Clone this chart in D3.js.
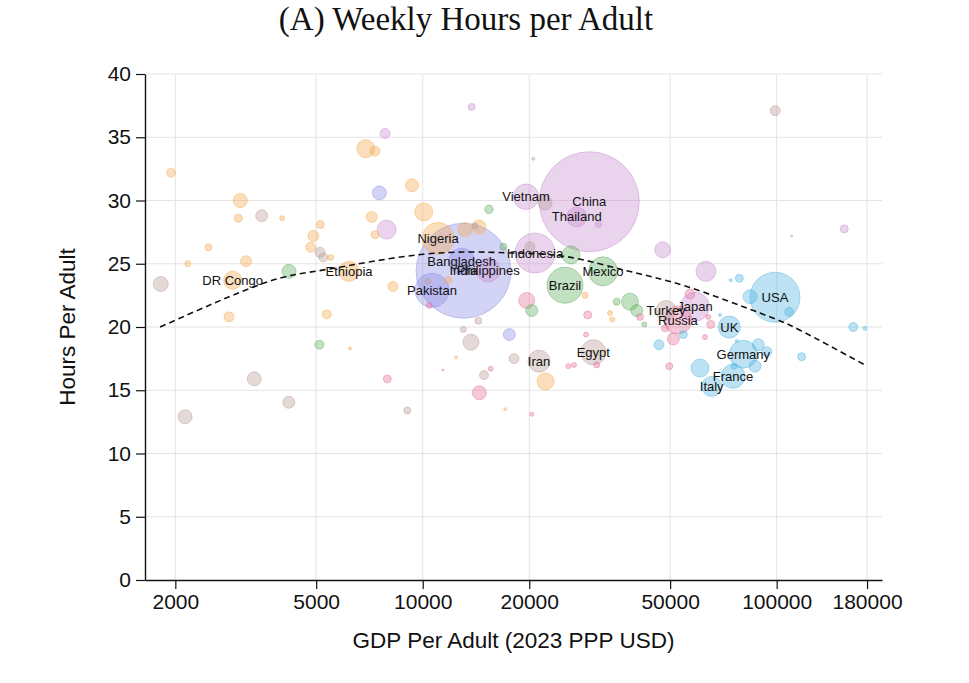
<!DOCTYPE html>
<html>
<head>
<meta charset="utf-8">
<script src="https://cdn.jsdelivr.net/npm/d3@7"></script>
<style>
  body { margin: 0; background: #fff; }
  text { font-family: "Liberation Sans", Arial, sans-serif; }
</style>
</head>
<body>
<svg id="chart" width="969" height="683"></svg>
<script>
// [gdp per adult, weekly hours, adult population (m), label]
const africa = [
  [1945, 32.2, 8.9], [3053, 30.0, 21.6], [3014, 28.6, 7], [4005, 28.6, 2.75],
  [6902, 34.1, 35.6], [7332, 33.9, 11], [9328, 31.2, 18.6], [10065, 29.1, 35.6],
  [7178, 28.7, 13.3], [7332, 27.3, 7], [5137, 28.1, 7], [4909, 27.2, 13.3],
  [4827, 26.3, 11], [5497, 25.5, 4], [2480, 26.3, 5.4], [2169, 25.0, 4],
  [2905, 23.7, 35.6, 'DR Congo'], [3168, 25.2, 13.3], [6191, 24.4, 44, 'Ethiopia'],
  [8244, 23.2, 11], [2836, 20.8, 11], [11046, 27.0, 112, 'Nigeria'],
  [13166, 27.7, 21.6], [14423, 27.9, 21.6], [5356, 21.0, 8.9], [6232, 18.3, 1],
  [11810, 23.7, 5.4], [12420, 17.6, 1], [17116, 13.5, 1], [22233, 15.7, 31.8],
  [28730, 22.5, 4], [33815, 21.1, 2.75], [34325, 20.6, 2.75]
];
const eastAsia = [
  [13751, 37.4, 5.4], [7825, 35.3, 11], [7910, 27.7, 39.7], [19579, 30.3, 71, 'Vietnam'],
  [29545, 29.9, 1100, 'China'], [27227, 28.7, 44, 'Thailand'], [31333, 28.1, 4],
  [47640, 26.1, 28], [20758, 25.85, 176, 'Indonesia'], [15318, 24.5, 63, 'Philippines'],
  [63140, 24.4, 44], [58766, 21.6, 92.5, 'Japan'], [155240, 27.75, 7], [110250, 27.2, 0.44]
];
const southAsia = [
  [7543, 30.6, 21.6], [12885, 25.2, 74, 'Bangladesh'], [13040, 24.45, 992, 'India'],
  [10624, 22.9, 127, 'Pakistan'], [17567, 19.4, 15.8]
];
const latinAmerica = [
  [15389, 29.3, 8], [16891, 26.35, 5.4], [26236, 25.7, 35.6], [25235, 23.3, 142.6, 'Brazil'],
  [32304, 24.4, 92.5, 'Mexico'], [20318, 21.3, 15.8], [35318, 22.0, 5.4], [38515, 22.0, 31.8],
  [40231, 21.3, 15.8], [42267, 20.2, 2.75], [4190, 24.4, 21.6], [5105, 18.6, 8.9]
];
const easternEurope = [
  [10438, 21.7, 4], [19670, 22.1, 28], [29250, 20.95, 7], [41106, 20.8, 5.4],
  [7943, 15.9, 7], [14452, 14.8, 21.6], [15563, 16.7, 2.75], [11390, 16.6, 0.44],
  [20318, 13.1, 1.8], [25782, 16.9, 2.75], [26755, 17.0, 2.75], [31007, 17.0, 4],
  [28930, 19.4, 2.75], [52603, 20.55, 86, 'Russia'], [56894, 22.6, 11], [48362, 19.9, 5.4],
  [51059, 19.05, 15.8], [65102, 20.2, 7], [64091, 20.8, 2.75], [62733, 19.2, 2.75],
  [49727, 16.9, 5.4]
];
const middleEast = [
  [3508, 28.8, 15.8], [5128, 25.9, 11], [5239, 25.5, 8.9], [1819, 23.4, 24.75],
  [3343, 15.9, 21.6], [4183, 14.05, 15.8], [2131, 12.9, 21.6], [9048, 13.4, 5.4],
  [13020, 19.8, 4], [13687, 18.8, 28], [14357, 20.5, 5.4], [14900, 16.2, 8.9],
  [18110, 17.5, 11], [21307, 17.3, 53, 'Iran'], [30331, 18.0, 69, 'Egypt'],
  [22154, 29.8, 21.6], [20529, 33.3, 1], [20095, 26.35, 11], [10330, 23.6, 4],
  [48675, 21.3, 44, 'Turkey'], [99038, 37.1, 11], [14050, 28.0, 4]
];
const western = [
  [46504, 18.6, 11], [54476, 19.4, 7], [73469, 20.0, 53, 'UK'], [78435, 23.85, 7],
  [74131, 23.7, 1], [84061, 22.4, 21.6], [98899, 22.35, 275, 'USA'], [108540, 21.2, 8.9],
  [69187, 20.95, 1], [77090, 18.9, 1], [117650, 17.65, 7], [80483, 17.85, 86, 'Germany'],
  [88716, 18.6, 15.8], [93714, 18.05, 11], [86838, 16.9, 15.8], [60729, 16.75, 35.6],
  [75267, 16.1, 63, 'France'], [65523, 15.3, 44, 'Italy'], [75753, 16.9, 4],
  [164610, 20.0, 8.9], [177590, 19.9, 1.8]
];

// fitted trend
const trendGdp = [1811, 3545, 5356, 10039, 17273, 25516, 37705, 55694, 89743, 116370, 177590];
const trendHours = [20.0, 23.45, 24.55, 25.75, 25.87, 25.56, 24.45, 23.2, 21.1, 19.75, 17.0];

const xTicks = [2000, 5000, 10000, 20000, 50000, 100000, 180000];
const yTicks = [0, 5, 10, 15, 20, 25, 30, 35, 40];

const groups = [
  { rows: africa, color: '#f5a94e' },
  { rows: eastAsia, color: '#c78bcf' },
  { rows: southAsia, color: '#8b8be6' },
  { rows: latinAmerica, color: '#5fae5f' },
  { rows: easternEurope, color: '#e4709c' },
  { rows: middleEast, color: '#b89a94' },
  { rows: western, color: '#4fb4e0' },
];

const svg = d3.select('#chart');
const plotLeft = 145, plotRight = 882, plotTop = 74, plotBottom = 580;

const x = d3.scaleLog().domain([1642, 198400]).range([plotLeft, plotRight]);
const y = d3.scaleLinear().domain([0, 40]).range([plotBottom, plotTop]);
const r = d3.scaleSqrt().domain([0, 1100]).range([0, 50]);

// grid
const grid = svg.append('g').attr('stroke', '#e4e4e4').attr('stroke-width', 1);
grid.selectAll('.gy').data(yTicks.filter((d) => d > 0)).enter().append('line')
  .attr('x1', plotLeft).attr('x2', plotRight)
  .attr('y1', (d) => y(d)).attr('y2', (d) => y(d));
grid.selectAll('.gx').data(xTicks).enter().append('line')
  .attr('x1', (d) => x(d)).attr('x2', (d) => x(d))
  .attr('y1', plotTop).attr('y2', plotBottom);

// bubbles, big ones first
const points = [];
groups.forEach((g) => g.rows.forEach((d) => points.push({ gdp: d[0], hours: d[1], pop: d[2], name: d[3], color: g.color })));
points.sort((a, b) => b.pop - a.pop);

svg.append('g').selectAll('circle')
  .data(points)
  .enter()
  .append('circle')
  .attr('cx', (d) => x(d.gdp))
  .attr('cy', (d) => y(d.hours))
  .attr('r', (d) => Math.max(1, r(d.pop)))
  .attr('fill', (d) => d.color)
  .attr('fill-opacity', 0.38)
  .attr('stroke', (d) => d.color)
  .attr('stroke-opacity', 0.45)
  .attr('stroke-width', 1);

// trend
const line = d3.line()
  .x((d, i) => x(trendGdp[i]))
  .y((d) => y(d))
  .curve(d3.curveNatural);
svg.append('path')
  .datum(trendHours)
  .attr('d', line)
  .attr('fill', 'none')
  .attr('stroke', '#111')
  .attr('stroke-width', 1.6)
  .attr('stroke-dasharray', '6,4');

// labels
svg.append('g').selectAll('text')
  .data(points.filter((d) => d.name))
  .enter()
  .append('text')
  .text((d) => d.name)
  .attr('x', (d) => x(d.gdp))
  .attr('y', (d) => y(d.hours))
  .attr('dy', '0.35em')
  .attr('text-anchor', 'middle')
  .attr('font-size', 13)
  .attr('fill', '#111');

// axes
const xAxis = svg.append('g')
  .attr('transform', `translate(0, ${plotBottom})`)
  .call(d3.axisBottom(x).tickValues(xTicks).tickFormat(d3.format('d')).tickSize(9).tickSizeOuter(0).tickPadding(5));
const yAxis = svg.append('g')
  .attr('transform', `translate(${plotLeft}, 0)`)
  .call(d3.axisLeft(y).tickValues(yTicks).tickSize(9).tickSizeOuter(0).tickPadding(5));
[xAxis, yAxis].forEach((a) => {
  a.selectAll('text').attr('font-size', 21).attr('fill', '#111').style('font-family', '"Liberation Sans", Arial, sans-serif');
  a.selectAll('line').attr('stroke', '#111').attr('stroke-width', 1.2);
  a.select('.domain').attr('stroke', '#111').attr('stroke-width', 1.4);
});

svg.append('text')
  .text('GDP Per Adult (2023 PPP USD)')
  .attr('x', (plotLeft + plotRight) / 2)
  .attr('y', 648)
  .attr('text-anchor', 'middle')
  .attr('font-size', 22.5)
  .attr('fill', '#111');

svg.append('text')
  .text('Hours Per Adult')
  .attr('transform', `translate(75, ${(plotTop + plotBottom) / 2}) rotate(-90)`)
  .attr('text-anchor', 'middle')
  .attr('font-size', 22.5)
  .attr('fill', '#111');

svg.append('text')
  .text('(A) Weekly Hours per Adult')
  .attr('x', 466)
  .attr('y', 30)
  .attr('text-anchor', 'middle')
  .attr('font-size', 33)
  .attr('fill', '#111')
  .style('font-family', '"Liberation Serif", "Times New Roman", serif');
</script>
</body>
</html>
